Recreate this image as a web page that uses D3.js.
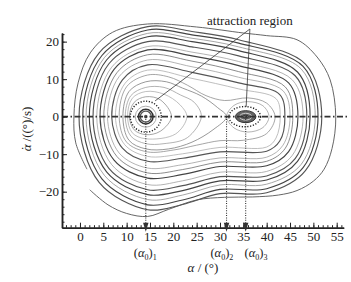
<!DOCTYPE html>
<html>
<head>
<meta charset="utf-8">
<script src="https://cdn.jsdelivr.net/npm/d3@7"></script>
<style>
  body { margin: 0; background: #fff; }
  text { font-family: "Liberation Serif", "DejaVu Serif", serif; fill: #222; }
</style>
</head>
<body>
<svg id="chart" width="351" height="282"></svg>
<script>
// phase trajectories, points are [alpha (deg), alphaDot (deg/s)]
const outerSpiral = [[2.1,-19.5],[6,-23.5],[10,-25.8],[14.5,-26.6],[19,-24.7],[25,-22.2],[31,-21.5],[37,-21.4],[42.5,-20.9],[46.5,-19.7],[50,-17.2],[52.3,-14],[54,-8.5],[54.8,0],[53.6,9.8],[50.8,15.9],[46.5,20.5],[40,21.6],[35,22.3],[25,23.9],[14.5,24.7],[7,22.5],[2.2,17],[-0.4,9],[-1.3,0],[-0.9,-7],[1.5,-14]];

const outerOrbits = [
  [[-0.2,0],[4.1,17.0],[14.5,24.0],[24,22.7],[34,20.5],[48.3,14.0],[51.8,0],[48.3,-14.4],[40,-20.3],[30,-20.5],[22,-23.4],[14.5,-24.8],[4.1,-17.5]],
  [[0.6,0],[4.7,16.3],[14.5,23.1],[24,21.8],[34,19.6],[47.8,13.4],[51,0],[47.8,-13.6],[40,-19.2],[30,-19.4],[22,-22.2],[14.5,-23.5],[4.7,-16.6]],
  [[1.3,0],[5.2,15.7],[14.5,22.2],[24,20.9],[34,18.6],[47.4,12.7],[50.4,0],[47.4,-12.7],[40,-18.0],[30,-18.2],[22,-20.9],[14.5,-22.1],[5.2,-15.6]],
  [[2,0],[5.7,15.1],[14.5,21.3],[24,20.0],[34,17.6],[46.6,11.9],[49.3,0],[46.6,-11.9],[40,-16.9],[30,-17.1],[22,-19.7],[14.5,-20.8],[5.7,-14.7]],
  [[2.8,0],[6.2,14.1],[14.5,20.0],[24,18.6],[34,16.2],[46.1,10.9],[48.6,0],[46.1,-11.2],[40,-15.8],[30,-16.0],[22,-18.4],[14.5,-19.5],[6.2,-13.8]],
  [[3.6,0],[6.8,13.2],[14.5,18.7],[24,17.2],[34,14.7],[45.5,9.8],[47.8,0],[45.5,-10.3],[40,-14.6],[30,-14.8],[22,-17.1],[14.5,-18.1],[6.8,-12.8]],
  [[4.3,0],[7.3,12.6],[14.5,17.8],[24,16.2],[34,13.6],[44.7,9.0],[46.7,0],[44.7,-9.3],[40,-13.1],[30,-13.3],[22,-15.4],[14.5,-16.4],[7.3,-11.6]],
  [[5.1,0],[7.9,11.7],[14.5,16.5],[24,14.8],[34,12.0],[44,7.9],[45.6,0],[44,-8.4],[40,-11.9],[30,-12.1],[22,-14.1],[14.5,-15.0],[7.9,-10.6]],
  [[5.9,0],[8.4,10.7],[14.5,15.1],[24,13.3],[34,10.5],[43.5,6.9],[45,0],[43.5,-7.6],[40,-10.8],[30,-11.0],[22,-12.8],[14.5,-13.7],[8.4,-9.7]],
  [[6.8,0],[9.1,9.8],[14.5,13.8],[24,11.8],[34,9.0],[42.8,5.9],[43.9,0],[42.8,-6.5],[40,-9.2],[30,-9.4],[22,-11.1],[14.5,-11.9],[9.1,-8.4]],
  [[7.6,0],[9.6,8.8],[14.5,12.4],[24,10.2],[34,7.4],[42,4.8],[42.9,0],[42,-5.7],[40,-8.1],[30,-8.2],[22,-9.9],[14.5,-10.6],[9.6,-7.5]],
  [[8.4,0],[10,8],[14.5,11.1],[19,10.6],[23,8.4],[27,5.6],[31,4.3],[36,5.0],[40,3.6],[41.8,0],[40,-4.5],[35,-6.3],[30,-6.4],[25,-7.6],[20,-8.9],[14.5,-9.4],[10,-6.8]]
];

// orbits inside the separatrix around the left centre
const lobeOrbits = [
  [[10.6,0],[11.6,3.8],[14.1,5.3],[17.2,4.5],[19.6,0],[17.2,-3.9],[14.1,-4.8],[11.6,-3.5]],
  [[10.2,0],[11.2,4.9],[14.1,6.7],[18,6.0],[21.4,3.2],[22.9,0],[20.5,-4.6],[14.1,-5.9],[11.2,-4.3]],
  [[9.7,0],[10.9,5.6],[14.1,7.8],[18,7.8],[21.5,5.8],[24.5,3.8],[26,0],[23,-5.6],[18,-7.2],[14.1,-7.2],[10.9,-5.2]],
  [[9.2,0],[10.5,6.7],[14.1,9.3],[18.5,9.3],[22,7.6],[26,5.5],[29.5,2.4],[31.4,0],[28.5,-3.5],[24,-6.8],[19,-8.6],[14.1,-8.6],[10.5,-6.3]]
];

// loop around the right centre, through the saddle
const rightLoop = [[31.4,0],[33,3],[36,4.0],[39.2,2.9],[40.5,0],[39.2,-2.9],[36,-4.1],[33,-3]];

// equilibrium positions (alpha0)1, (alpha0)2, (alpha0)3
const alpha0 = [14.1, 31.4, 35.5];
const alpha0Names = ["1", "2", "3"];

// small closed orbits round the centres, [alpha half-width, alphaDot half-height]
const leftRings = [[1.18,1.47],[1.56,1.95],[2.25,2.8]];
const leftAttraction = [3.32, 4.13];
const rightRings = [[2.2,1.6],[1.3,0.9],[0.6,0.4]];
const rightAttraction = [3.4, 2.7];

const xTicks = [0,5,10,15,20,25,30,35,40,45,50,55];
const yTicks = [-20,-10,0,10,20];
const xMinor = d3.range(-3, 57, 1);
const yMinor = d3.range(-28, 23, 2);

const svg = d3.select("#chart");
const x = d3.scaleLinear().domain([-3.85, 56.5]).range([62, 343.7]);
const y = d3.scaleLinear().domain([-29.6, 22.3]).range([227.7, 33]);
const sx = d => x(d) - x(0);
const sy = d => y(0) - y(d);

const closedLine = d3.line().x(d => x(d[0])).y(d => y(d[1])).curve(d3.curveCatmullRomClosed.alpha(0.5));
const openLine = d3.line().x(d => x(d[0])).y(d => y(d[1])).curve(d3.curveCatmullRom.alpha(0.5));

const tones = ["#555","#444","#888","#444","#555","#999","#444","#666","#999","#555","#aaa","#888"];

const g = svg.append("g").attr("fill", "none");

g.append("path").attr("d", openLine(outerSpiral)).attr("stroke", "#555").attr("stroke-width", 0.9);

g.selectAll(".outer").data(outerOrbits).join("path")
  .attr("class", "outer")
  .attr("d", closedLine)
  .attr("stroke", (d, i) => tones[i])
  .attr("stroke-width", (d, i) => tones[i] < "#6" ? 1.15 : 0.75);

g.selectAll(".lobe").data(lobeOrbits).join("path")
  .attr("class", "lobe")
  .attr("d", closedLine)
  .attr("stroke", (d, i) => ["#888","#aaa","#999","#777"][i])
  .attr("stroke-width", 0.75);

g.append("path").attr("d", closedLine(rightLoop)).attr("stroke", "#999").attr("stroke-width", 0.75);

// rings round the left centre
g.selectAll(".lring").data(leftRings).join("ellipse")
  .attr("cx", x(alpha0[0])).attr("cy", y(0))
  .attr("rx", d => sx(d[0])).attr("ry", d => sy(d[1]))
  .attr("stroke", (d, i) => ["#555","#333","#999"][i])
  .attr("stroke-width", (d, i) => [1.3, 1.5, 0.8][i]);
g.append("circle").attr("cx", x(alpha0[0])).attr("cy", y(0)).attr("r", 1.8).attr("fill", "#555");

// rings round the right centre
g.selectAll(".rring").data(rightRings).join("ellipse")
  .attr("cx", x(alpha0[2])).attr("cy", y(0))
  .attr("rx", d => sx(d[0])).attr("ry", d => sy(d[1]))
  .attr("fill", (d, i) => ["#666", "none", "none"][i])
  .attr("stroke", (d, i) => ["#333", "#ccc", "#333"][i])
  .attr("stroke-width", 1);

// zero line
svg.append("line")
  .attr("x1", x.range()[0]).attr("x2", x(57.3))
  .attr("y1", y(0)).attr("y2", y(0))
  .attr("stroke", "#333").attr("stroke-width", 1.6)
  .attr("stroke-dasharray", "6,2.5,1.5,2.5");

// attraction regions
svg.append("ellipse")
  .attr("cx", x(alpha0[0])).attr("cy", y(0))
  .attr("rx", sx(leftAttraction[0])).attr("ry", sy(leftAttraction[1]))
  .attr("fill", "none").attr("stroke", "#222").attr("stroke-width", 1.4)
  .attr("stroke-dasharray", "1.2,1.6");
svg.append("ellipse")
  .attr("cx", x(alpha0[2] - 0.2)).attr("cy", y(0))
  .attr("rx", sx(rightAttraction[0])).attr("ry", sy(rightAttraction[1]))
  .attr("fill", "none").attr("stroke", "#222").attr("stroke-width", 1.4)
  .attr("stroke-dasharray", "1.2,1.6");

// axes
const axisG = svg.append("g").attr("class", "axes");
const yAxisMinor = d3.axisLeft(y).tickValues(yMinor).tickSize(-2.5).tickSizeOuter(0).tickFormat("");
const yAxis = d3.axisLeft(y).tickValues(yTicks).tickSize(-5).tickSizeOuter(0).tickPadding(3)
  .tickFormat(d => d < 0 ? "\u2212" + Math.abs(d) : d);
const xAxisMinor = d3.axisBottom(x).tickValues(xMinor).tickSize(-2.5).tickSizeOuter(0).tickFormat("");
const xAxis = d3.axisBottom(x).tickValues(xTicks).tickSize(-5).tickSizeOuter(0).tickPadding(4);

[[yAxisMinor, "translate(62,0)"], [yAxis, "translate(62,0)"],
 [xAxisMinor, "translate(0,227.7)"], [xAxis, "translate(0,227.7)"]].forEach(([ax, tr]) => {
  const a = axisG.append("g").attr("transform", tr).call(ax);
  a.selectAll("path.domain").attr("stroke", "#222").attr("stroke-width", 1.5);
  a.selectAll(".tick line").attr("stroke", "#222").attr("stroke-width", 1);
  a.selectAll("text").attr("font-family", "Liberation Serif").attr("font-size", 13).attr("fill", "#222");
});

// equilibrium markers
const eq = svg.append("g");
alpha0.forEach((a0, i) => {
  eq.append("line")
    .attr("x1", x(a0)).attr("x2", x(a0))
    .attr("y1", y(0)).attr("y2", y(-30.2))
    .attr("stroke", "#333").attr("stroke-width", 1.1).attr("stroke-dasharray", "1,1.4");
  eq.append("path")
    .attr("d", `M${x(a0) - 2.7},${y(-28.3)}L${x(a0) + 2.7},${y(-28.3)}L${x(a0)},${y(-30.7)}Z`)
    .attr("fill", "#333");
});
const labelAt = [14.0, 30.4, 37.7];
alpha0Names.forEach((n, i) => {
  const t = eq.append("text").attr("x", x(labelAt[i])).attr("y", 257).attr("text-anchor", "middle").attr("font-size", 12.5);
  t.append("tspan").text("(");
  t.append("tspan").attr("font-style", "italic").text("\u03b1");
  t.append("tspan").attr("font-size", 8).attr("dy", 2.5).text("0");
  t.append("tspan").attr("dy", -2.5).text(")");
  t.append("tspan").attr("font-size", 8).attr("dy", 2.5).text(n);
});

// annotation
const note = svg.append("g");
note.append("text").attr("x", x(36.4)).attr("y", 25).attr("text-anchor", "middle")
  .attr("font-size", 13).text("attraction region");
[[16.1, 4.2], [35.6, 2.6]].forEach(p => {
  note.append("line")
    .attr("x1", x(36.4)).attr("y1", 29)
    .attr("x2", x(p[0])).attr("y2", y(p[1]))
    .attr("stroke", "#333").attr("stroke-width", 0.8);
});

// axis titles
const xt = svg.append("text").attr("x", 203).attr("y", 272).attr("text-anchor", "middle").attr("font-size", 13);
xt.append("tspan").attr("font-style", "italic").text("\u03b1");
xt.append("tspan").text(" / (\u00b0)");

const yt = svg.append("text").attr("transform", "translate(31,129) rotate(-90)").attr("text-anchor", "middle").attr("font-size", 13);
yt.append("tspan").attr("font-style", "italic").text("\u03b1");
yt.append("tspan").attr("dx", -6).attr("dy", -1).text("\u02d9");
yt.append("tspan").attr("dx", 1.5).attr("dy", 1).text(" /((\u00b0)/s)");
</script>
</body>
</html>
